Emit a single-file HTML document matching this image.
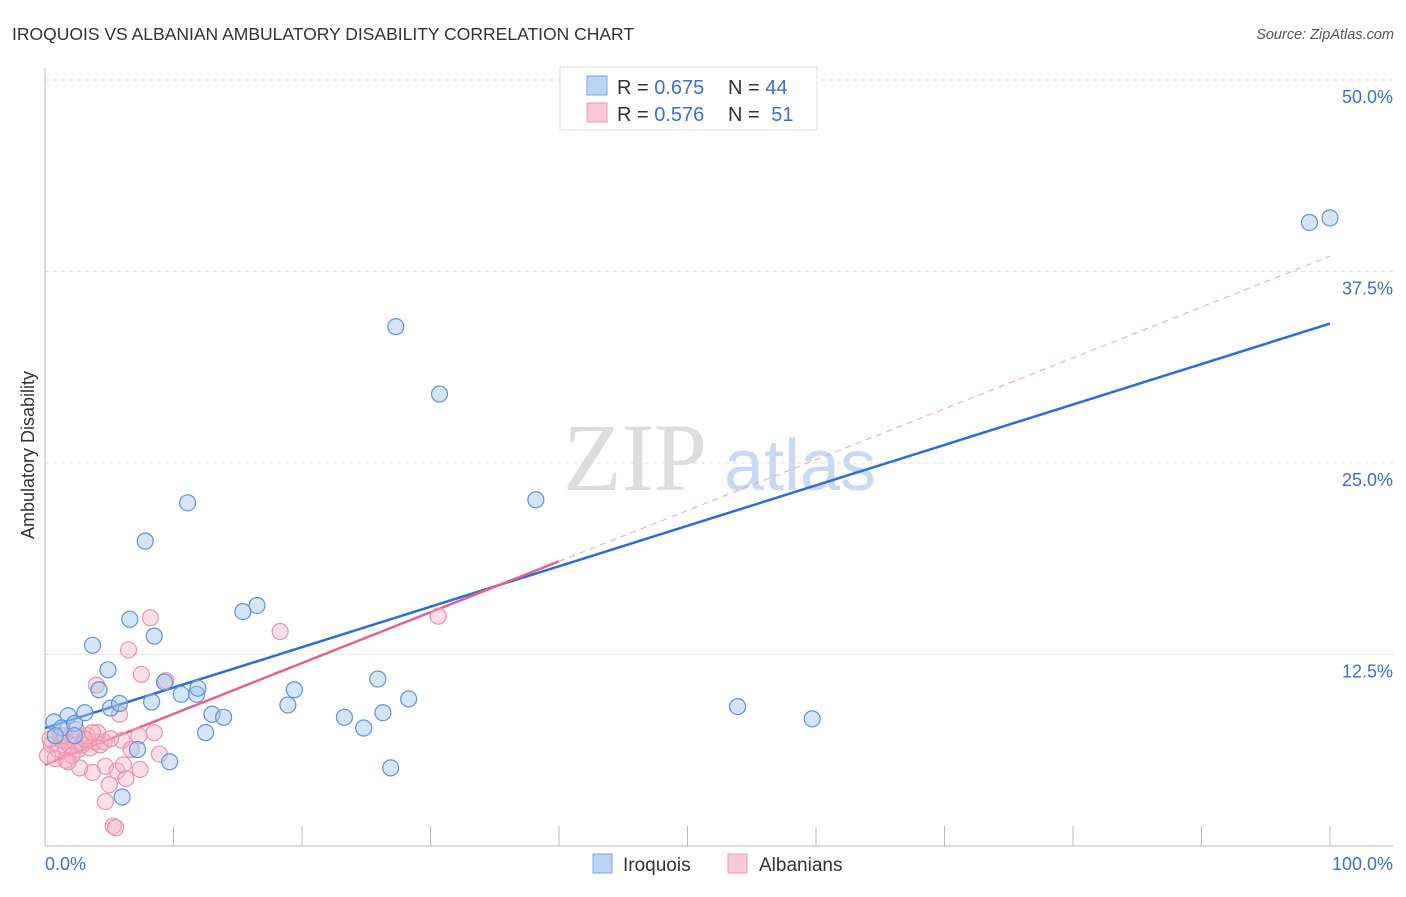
<!DOCTYPE html>
<html><head><meta charset="utf-8"><style>
body{margin:0;background:#fff;font-family:"Liberation Sans",sans-serif}
</style></head><body>
<svg width="1406" height="892" xmlns="http://www.w3.org/2000/svg" id="chart">
<text x="12" y="40" font-size="17.5" fill="#333">IROQUOIS VS ALBANIAN AMBULATORY DISABILITY CORRELATION CHART</text>
<text x="1394" y="39" font-size="14.5" fill="#555" font-style="italic" text-anchor="end">Source: ZipAtlas.com</text>
<text x="635" y="490" font-size="96" fill="#ddd" font-family="Liberation Serif,serif" text-anchor="middle">ZIP</text>
<text x="800" y="490" font-size="72" fill="#c8daf3" text-anchor="middle">atlas</text>
<g id="grid"></g>
<line x1="45" y1="68" x2="45" y2="846" stroke="#bbb"/>
<line x1="45" y1="846" x2="1393" y2="846" stroke="#bbb"/>
<text x="34" y="455" font-size="18" fill="#333" text-anchor="middle" transform="rotate(-90 34 455)">Ambulatory Disability</text>
<text x="45" y="870" font-size="18" fill="#3a6fd8">0.0%</text>
<text x="1393" y="870" font-size="18" fill="#3a6fd8" text-anchor="end">100.0%</text>
<g id="lines"></g>
<g id="points"></g>
<g>
<rect x="560" y="67" width="257" height="63" fill="#fff" stroke="#ddd"/>
<rect x="587" y="76" width="20" height="19" fill="#b9d4f5" stroke="#7aa5e0"/>
<rect x="587" y="103" width="20" height="19" fill="#fbc9d8" stroke="#ee9ab4"/>
<g font-size="20" fill="#333">
<text x="617" y="94">R = <tspan fill="#3a6fd8">0.675</tspan></text>
<text x="728" y="94">N = <tspan fill="#3a6fd8">44</tspan></text>
<text x="617" y="121">R = <tspan fill="#3a6fd8">0.576</tspan></text>
<text x="728" y="121">N = <tspan fill="#3a6fd8" dx="6">51</tspan></text>
</g>
</g>
<g>
<rect x="593" y="854" width="19" height="19" fill="#b9d4f5" stroke="#7aa5e0"/>
<text x="623" y="871" font-size="19" fill="#333">Iroquois</text>
<rect x="728" y="854" width="19" height="19" fill="#fbc9d8" stroke="#ee9ab4"/>
<text x="759" y="871" font-size="19" fill="#333">Albanians</text>
</g>
</svg>
<script>
const yTicks=[12.5,25,37.5,50];
const yTickLabels=["12.5%","25.0%","37.5%","50.0%"];
const xTicks=[0,10,20,30,40,50,60,70,80,90,100];
const iroquoisX=[0.7,1.8,1.3,3.1,2.3,4.2,4.9,3.7,5.1,5.8,6.6,8.5,7.8,11.1,8.3,9.3,10.6,11.8,11.9,13.0,12.5,13.9,15.4,16.5,18.9,19.4,23.3,24.8,25.9,26.3,27.3,28.3,30.7,26.9,38.2,9.7,6.0,7.2,53.9,59.7,98.4,100.0,0.8,2.3];
const iroquoisY=[8.1,8.5,7.7,8.7,8.0,10.2,11.5,13.1,9.0,9.3,14.8,13.7,19.9,22.4,9.4,10.7,9.9,9.9,10.3,8.6,7.4,8.4,15.3,15.7,9.2,10.2,8.4,7.7,10.9,8.7,33.9,9.6,29.5,5.1,22.6,5.5,3.2,6.3,9.1,8.3,40.7,41.0,7.2,7.2];
const albaniansX=[0.5,1.0,0.2,1.3,1.6,1.9,2.3,2.6,2.9,3.2,3.5,3.9,4.3,4.6,0.8,1.6,2.1,3.3,4.1,1.2,4.0,5.8,6.5,8.2,7.5,9.4,8.5,6.0,7.3,6.7,8.9,4.7,3.7,2.7,5.6,6.1,6.3,7.4,5.0,4.7,5.3,5.5,18.3,30.6,3.1,5.1,1.8,0.4,3.7,2.4,1.5];
const albaniansY=[6.6,6.3,5.9,6.9,6.4,6.6,6.8,6.3,6.6,6.9,6.4,6.8,6.6,6.8,5.7,5.6,5.9,7.2,7.4,7.2,10.5,8.6,12.8,14.9,11.2,10.8,7.4,6.9,7.2,6.3,6.0,5.2,4.8,5.1,4.9,5.3,4.4,5.0,4.0,2.9,1.3,1.2,14.0,15.0,7.0,7.0,5.5,7.0,7.4,7.6,7.2];
const iroquoisTrend=[7.7,34.1];
const albaniansTrend=[5.3,38.5];
const albaniansSolidEnd=40;
const NS="http://www.w3.org/2000/svg";
const X=v=>45+v*12.85, Y=v=>846-v*15.32;
function mk(t,a,p){const e=document.createElementNS(NS,t);for(const k in a)e.setAttribute(k,a[k]);document.getElementById(p).appendChild(e);return e;}
yTicks.forEach((t,i)=>{
 const l=mk('line',{x1:45,x2:1393,y1:Y(t),y2:Y(t),stroke:'#ddd','stroke-dasharray':'4 4'},'grid');
 
 
 const tx=mk('text',{x:1393,y:Y(t)+23,'font-size':18,fill:'#3a6fd8','text-anchor':'end'},'grid');
 tx.textContent=yTickLabels[i];
 
 
});
xTicks.forEach(t=>{
 const l=mk('line',{x1:X(t),x2:X(t),y1:826,y2:846,stroke:'#bbb'},'grid');
 
 
});
albaniansX.forEach((x,i)=>{
 const c=mk('circle',{cx:X(x),cy:Y(albaniansY[i]),r:8,fill:'rgba(248,175,198,0.4)',stroke:'#eb93b0','stroke-width':1.2},'points');
 
 
});
iroquoisX.forEach((x,i)=>{
 const c=mk('circle',{cx:X(x),cy:Y(iroquoisY[i]),r:8,fill:'rgba(160,198,240,0.45)',stroke:'#5f93dc','stroke-width':1.2},'points');
 
 
});
const bl=mk('line',{x1:X(0),y1:Y(iroquoisTrend[0]),x2:X(100),y2:Y(iroquoisTrend[1]),stroke:'#2b6fd6','stroke-width':2.5},'lines');


const pa=v=>albaniansTrend[0]+(albaniansTrend[1]-albaniansTrend[0])*v/100;
const pl=mk('line',{x1:X(0),y1:Y(pa(0)),x2:X(albaniansSolidEnd),y2:Y(pa(albaniansSolidEnd)),stroke:'#e8608a','stroke-width':2.5},'lines');


const pd=mk('line',{x1:X(albaniansSolidEnd),y1:Y(pa(albaniansSolidEnd)),x2:X(100),y2:Y(pa(100)),stroke:'#eba0b8','stroke-width':1,'stroke-dasharray':'6 5'},'lines');


</script>
</body></html>
